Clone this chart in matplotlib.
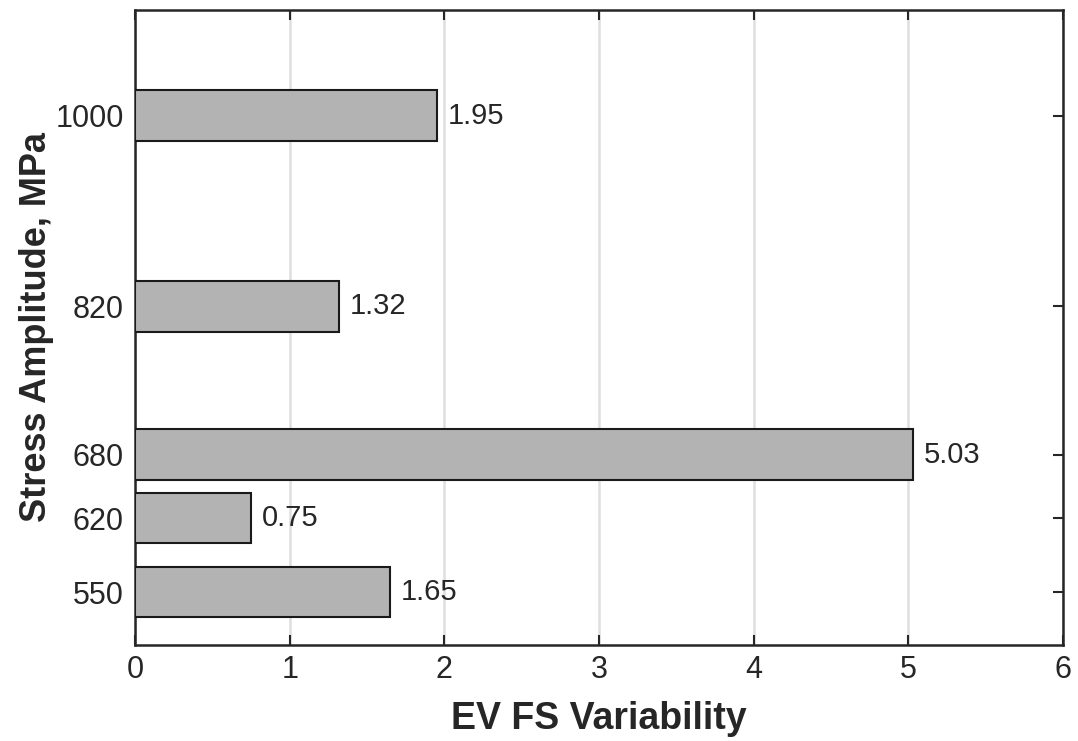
import matplotlib
matplotlib.use("Agg")
import matplotlib.pyplot as plt

stress = [550, 620, 680, 820, 1000]
variability = [1.65, 0.75, 5.03, 1.32, 1.95]
value_labels = ["1.65", "0.75", "5.03", "1.32", "1.95"]
xticks = [0, 1, 2, 3, 4, 5, 6]

plt.rcParams['font.family'] = ['Liberation Sans', 'DejaVu Sans']

fig = plt.figure(figsize=(10.78, 7.41), dpi=100)
ax = fig.add_axes([135/1078, 1 - 645/741, (1063-135)/1078, (645-10)/741])

ax.barh(stress, variability, height=48, color='#b3b3b3', edgecolor='#1a1a1a', linewidth=1.5, zorder=3)
for y, v, t in zip(stress, variability, value_labels):
    ax.text(v + 0.07, y, t, va='center', ha='left', fontsize=21, color='#262626', zorder=4)

ax.set_xlim(0, 6)
ax.set_ylim(500, 1100)
ax.set_xticks(xticks)
ax.set_yticks(stress)
ax.xaxis.grid(True, color='#dedede', linewidth=1.8, zorder=0)
ax.set_axisbelow(True)
ax.tick_params(axis='both', direction='in', top=True, right=True, length=7, width=1.5,
               labelsize=22, colors='#262626')
ax.tick_params(axis='x', pad=7)
ax.tick_params(axis='y', pad=8)
for s in ax.spines.values():
    s.set_linewidth(1.8)
    s.set_color('#262626')

ax.set_xlabel('EV FS Variability', fontsize=27, fontweight='bold', color='#262626', labelpad=12)
ax.set_ylabel('Stress Amplitude, MPa', fontsize=26, fontweight='bold', color='#262626', labelpad=1)

fig.savefig('out.png', dpi=100)
